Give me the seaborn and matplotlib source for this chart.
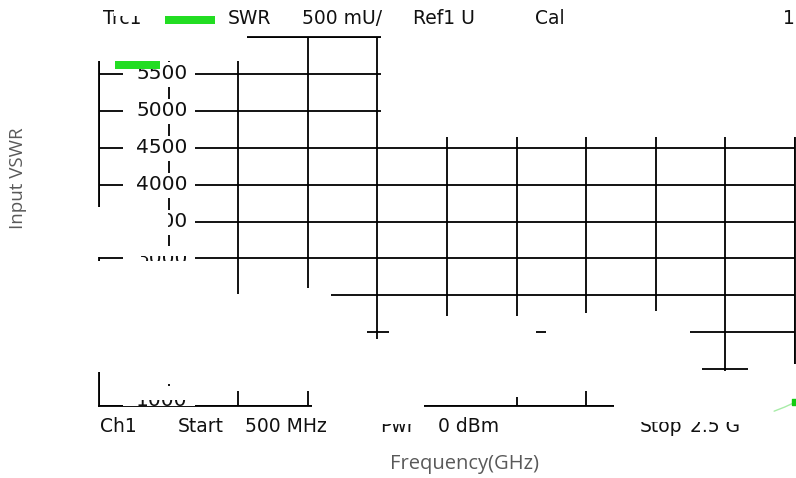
import matplotlib
matplotlib.use('Agg')
import matplotlib.pyplot as plt
from matplotlib.patches import Rectangle
import seaborn as sns
import pandas as pd

# 数据：网格刻度和可见的迹线末端
freq_ticks = [0.5, 0.7, 0.9, 1.1, 1.3, 1.5, 1.7, 1.9, 2.1, 2.3, 2.5]
vswr_ticks = [1000, 1500, 2000, 2500, 3000, 3500, 4000, 4500, 5000, 5500, 6000]
vswr_labels = ['1000', '1500', '2000', '2500', '3000', '3500', '4000', '4500', '5000', '5500']
trace_freq = [2.44, 2.47, 2.5]
trace_vswr = [930, 985, 1050]

W, H = 796, 478
sns.set_theme(style='white')
plt.rcParams['font.family'] = ['DejaVu Sans']

fig = plt.figure(figsize=(W / 100, H / 100), dpi=100)
ax = fig.add_axes([99 / W, 1 - 406 / H, 696 / W, 369 / H])
ax.set_xlim(freq_ticks[0], freq_ticks[-1])
ax.set_ylim(vswr_ticks[0], vswr_ticks[-1])
ax.set_xticks(freq_ticks)
ax.set_yticks(vswr_ticks)
ax.tick_params(length=0, labelbottom=False, labelleft=False)
ax.grid(True, color='black', lw=1.3)
for s in ax.spines.values():
    s.set_color('black')
    s.set_linewidth(1.3)

# 像素 -> 数据
px_f = (freq_ticks[-1] - freq_ticks[0]) / 696
px_v = (vswr_ticks[-1] - vswr_ticks[0]) / 369

# y 轴刻度标签（在图内，白底）
for lab in vswr_labels:
    v = float(lab)
    ax.add_patch(Rectangle((0.5 + 24 * px_f, v - 13 * px_v), 72 * px_f, 25 * px_v,
                           facecolor='white', edgecolor='none', zorder=2.8))
    yc = v + 5 * px_v if v == vswr_ticks[0] else v
    ax.text(0.5 + 63 * px_f, yc, lab, ha='center', va='center', fontsize=14.5,
            color='#111111', zorder=2.9)

# 遮挡的白色区域（像素坐标 x0, x1, y0, y1）
masks = [
    (381, 800, 30, 137), (90, 247, 30, 61),
    (93, 103, 207, 257), (93, 103, 261, 372), (93, 168, 211, 234),
    (126, 193, 246, 256), (126, 193, 386, 400),
    (103, 236, 261, 384), (175, 331, 294, 391), (300, 320, 288, 294),
    (312, 367, 298, 412), (367, 389, 339, 412), (314, 424, 391, 412),
    (380, 720, 316, 331), (582, 592, 313, 316), (651, 661, 311, 316),
    (389, 536, 331, 335), (546, 690, 331, 335),
    (380, 702, 335, 391), (440, 456, 391, 404.8), (510, 525, 391, 397),
    (614, 720, 391, 412), (702, 800, 371, 412), (748, 800, 364, 372),
]
for x0, x1, y0, y1 in masks:
    ax.add_patch(Rectangle((x0 / W, 1 - y1 / H), (x1 - x0) / W, (y1 - y0) / H,
                           transform=fig.transFigure, facecolor='white',
                           edgecolor='none', zorder=3, clip_on=False))

# 迹线末端
df = pd.DataFrame({'f': trace_freq, 'v': trace_vswr})
sns.lineplot(data=df, x='f', y='v', ax=ax, color='#a8eca8', lw=1, zorder=5)
ax.lines[-1].set_clip_on(False)
ax.scatter(trace_freq[-1], trace_vswr[-1], marker='s', s=14, color='#11cc11',
           zorder=6, clip_on=False)
ax.set_xlabel('')
ax.set_ylabel('')

# 绿色标记
for x0, x1, y0, y1 in [(115, 160, 61, 69), (165, 215, 16, 24)]:
    fig.add_artist(Rectangle((x0 / W, 1 - y1 / H), (x1 - x0) / W, (y1 - y0) / H,
                             transform=fig.transFigure, facecolor='#22dd22',
                             edgecolor='none', zorder=4))

# 仪器屏幕文字
top_text = [(103, 'Trc1'), (228, 'SWR'), (302, '500 mU/'), (413, 'Ref1 U'),
            (535, 'Cal'), (783, '1')]
bottom_text = [(100, 'Ch1'), (178, 'Start'), (245, '500 MHz'), (380, 'Pwr'),
               (438, '0 dBm'), (640, 'Stop'), (690, '2.5 G')]
for x, t in top_text:
    fig.text(x / W, 1 - 18 / H, t, ha='left', va='center', fontsize=13.5,
             color='#111111', zorder=5)
for x, t in bottom_text:
    fig.text(x / W, 1 - 426 / H, t, ha='left', va='center', fontsize=13.5,
             color='#111111', zorder=5)

# 文字上半部被遮住的部分
for x0, x1, y0, y1 in [(114, 150, 8, 16), (378, 432, 412, 424), (638, 765, 412, 422)]:
    fig.add_artist(Rectangle((x0 / W, 1 - y1 / H), (x1 - x0) / W, (y1 - y0) / H,
                             transform=fig.transFigure, facecolor='white',
                             edgecolor='none', zorder=6))

# 轴标题
fig.text(18 / W, 1 - 178 / H, 'Input VSWR', rotation=90, ha='center', va='center',
         fontsize=13.5, color='#595959', family=['Open Sans', 'DejaVu Sans'], zorder=5)
fig.text(464 / W, 1 - 464 / H, 'Frequency(GHz)', ha='center', va='center',
         fontsize=14.5, color='#595959', family=['Open Sans', 'DejaVu Sans'], zorder=5)

fig.savefig('out.png', dpi=100)
